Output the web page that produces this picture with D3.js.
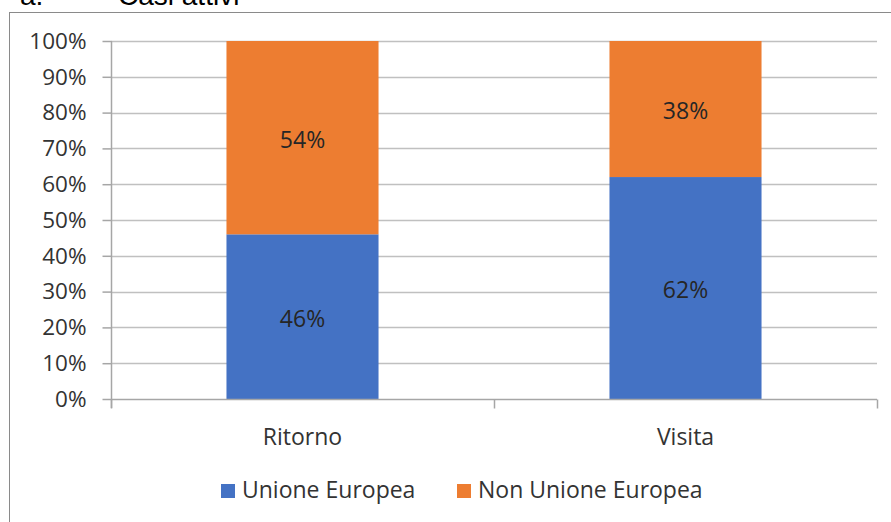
<!DOCTYPE html>
<html>
<head>
<meta charset="utf-8">
<script src="https://cdn.jsdelivr.net/npm/d3@7"></script>
<style>
  body { margin: 0; background: #fff; }
  svg { display: block; }
  text { font-family: "Open Sans", sans-serif; }
</style>
</head>
<body>
<svg id="chart" width="891" height="522"></svg>
<script>
const categories = ["Ritorno", "Visita"];
const seriesNames = ["Unione Europea", "Non Unione Europea"];
const ueValues = [0.46, 0.62];
const nonUeValues = [0.54, 0.38];
const yTicks = [0, 0.1, 0.2, 0.3, 0.4, 0.5, 0.6, 0.7, 0.8, 0.9, 1];
const colors = ["#4472C4", "#ED7D31"];

const svg = d3.select("#chart");
const plot = { left: 111, right: 877, top: 41, bottom: 399 };

// outer frame (cut off on the right / bottom like the source)
svg.append("rect")
  .attr("x", 9.5).attr("y", 12.5)
  .attr("width", 900).attr("height", 540)
  .attr("fill", "none")
  .attr("stroke", "#8a8a8a")
  .attr("stroke-width", 1);

// heading partly cut off at the top, as in the source image
svg.append("text")
  .attr("x", 20).attr("y", 5)
  .style("font-family", "'Liberation Sans', Arial, sans-serif")
  .style("font-size", "28px")
  .attr("fill", "#000")
  .text("a.");
svg.append("text")
  .attr("x", 118).attr("y", 5)
  .style("font-family", "'Liberation Sans', Arial, sans-serif")
  .style("font-size", "28px")
  .attr("fill", "#000")
  .text("Casi attivi");

const x = d3.scaleBand().domain(categories).range([plot.left, plot.right]).padding(0);
const y = d3.scaleLinear().domain([0, 1]).range([plot.bottom, plot.top]);

// gridlines
svg.append("g")
  .selectAll("line")
  .data(yTicks.filter((d) => d > 0))
  .join("line")
  .attr("x1", plot.left).attr("x2", plot.right)
  .attr("y1", (d) => Math.round(y(d)) + 0.5)
  .attr("y2", (d) => Math.round(y(d)) + 0.5)
  .attr("stroke", "#c0c0c0")
  .attr("stroke-width", 1.5);

// stacked data
const rows = categories.map((c, i) => ({ cat: c, ue: ueValues[i], non: nonUeValues[i] }));
const stack = d3.stack().keys(["ue", "non"])(rows);

const barW = x.bandwidth() * 0.397;
const barOff = (x.bandwidth() - barW) / 2;

const layers = svg.append("g")
  .selectAll("g")
  .data(stack)
  .join("g")
  .attr("fill", (d, i) => colors[i]);

layers.selectAll("rect")
  .data((d) => d)
  .join("rect")
  .attr("x", (d) => x(d.data.cat) + barOff)
  .attr("width", barW)
  .attr("y", (d) => y(d[1]))
  .attr("height", (d) => y(d[0]) - y(d[1]));

layers.selectAll("text")
  .data((d) => d)
  .join("text")
  .attr("x", (d) => x(d.data.cat) + x.bandwidth() / 2)
  .attr("y", (d) => (y(d[0]) + y(d[1])) / 2 + 2)
  .attr("dy", "0.35em")
  .attr("text-anchor", "middle")
  .attr("fill", "#262626")
  .style("font-size", "23px")
  .text((d) => Math.round((d[1] - d[0]) * 100) + "%");

// y axis
const yAxis = svg.append("g")
  .attr("transform", `translate(${plot.left + 0.5},0)`)
  .call(d3.axisLeft(y).tickValues(yTicks).tickSize(9).tickPadding(16)
    .tickFormat((d) => Math.round(d * 100) + "%"));
yAxis.select(".domain").remove();
yAxis.append("line")
  .attr("y1", plot.top).attr("y2", plot.bottom + 9)
  .attr("stroke", "#a6a6a6").attr("stroke-width", 1.5);
yAxis.selectAll(".tick line").attr("stroke", "#a6a6a6").attr("stroke-width", 1.5);
yAxis.selectAll(".tick text")
  .attr("fill", "#333")
  .style("font-size", "22.5px")
  .style("font-family", "'Open Sans', sans-serif");

// x axis
const xAxis = svg.append("g")
  .attr("transform", `translate(0,${Math.round(plot.bottom) + 0.5})`)
  .call(d3.axisBottom(x).tickSize(0).tickPadding(29));
xAxis.select(".domain").remove();
xAxis.append("line")
  .attr("x1", plot.left).attr("x2", plot.right)
  .attr("stroke", "#a6a6a6").attr("stroke-width", 1.5);
xAxis.selectAll(".boundary")
  .data([plot.left, plot.left + x.step(), plot.right])
  .join("line")
  .attr("x1", (d) => d + 0.5).attr("x2", (d) => d + 0.5)
  .attr("y1", 0).attr("y2", 9)
  .attr("stroke", "#a6a6a6").attr("stroke-width", 1.5);
xAxis.selectAll(".tick text")
  .attr("fill", "#333")
  .style("font-size", "23px")
  .style("font-family", "'Open Sans', sans-serif");

// legend
const legend = svg.append("g").attr("transform", "translate(221,484)");
const legendX = [0, 236];
const items = legend.selectAll("g")
  .data(seriesNames)
  .join("g")
  .attr("transform", (d, i) => `translate(${legendX[i]},0)`);
items.append("rect")
  .attr("width", 14).attr("height", 14)
  .attr("fill", (d, i) => colors[i]);
items.append("text")
  .attr("x", 21).attr("y", 14)
  .attr("fill", "#333")
  .style("font-size", "23px")
  .text((d) => d);
</script>
</body>
</html>
